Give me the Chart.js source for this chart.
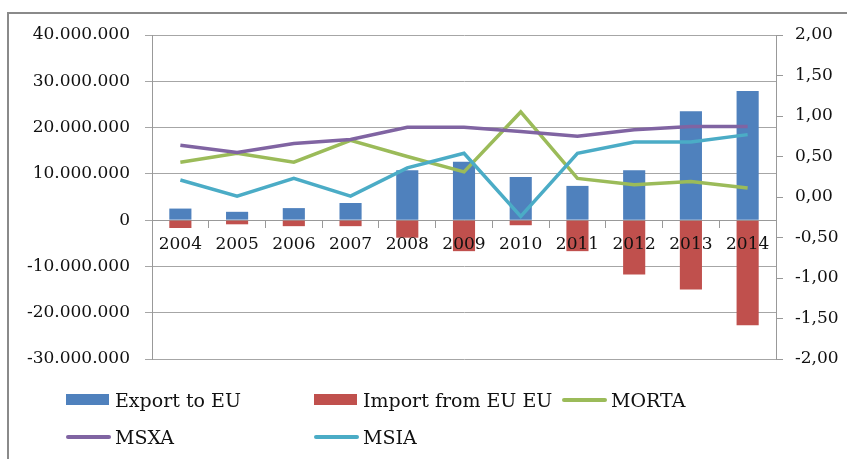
<!DOCTYPE html>
<html lang="en">
<head>
  <meta charset="UTF-8">
  <title>Export / Import EU</title>
  <style>
    body { margin: 0; background: #fff; font-family: "DejaVu Serif", serif; }
    #frame { position: absolute; left: 7px; top: 12px; width: 900px; height: 500px; border-left: 2px solid #8a8a8a; border-top: 2px solid #8a8a8a; }
    #wrap { position: absolute; left: 0; top: 0; width: 847px; height: 459px; }
    #legend { position: absolute; left: 66px; top: 381px; display: grid; grid-template-columns: 248px 248px 248px; grid-auto-rows: 37px; font-size: 19px; color: #111; }
    .item { display: flex; align-items: center; white-space: nowrap; }
    .sw { width: 45px; margin-right: 4px; }
  </style>
  <script src="https://cdn.jsdelivr.net/npm/chart.js"></script>
</head>
<body>
  <div id="frame"></div>
  <div id="wrap"><canvas id="c" width="847" height="459"></canvas></div>
  <div id="legend"></div>

  <script>
    // data
    const years = ['2004', '2005', '2006', '2007', '2008', '2009', '2010', '2011', '2012', '2013', '2014'];
    const exportEU = [2500000, 1800000, 2600000, 3700000, 10800000, 12600000, 9300000, 7400000, 10800000, 23500000, 27900000];
    const importEU = [-1700000, -900000, -1300000, -1300000, -3800000, -6700000, -1100000, -6700000, -11750000, -15000000, -22700000];
    const morta = [0.43, 0.54, 0.43, 0.70, 0.50, 0.31, 1.05, 0.23, 0.15, 0.19, 0.11];
    const msxa = [0.64, 0.55, 0.66, 0.71, 0.86, 0.86, 0.81, 0.75, 0.83, 0.87, 0.87];
    const msia = [0.21, 0.01, 0.23, 0.01, 0.36, 0.54, -0.24, 0.54, 0.68, 0.68, 0.77];
    const leftTicks = [-30000000, 40000000, 10000000];   // min, max, step
    const rightTicks = [-2, 2, 0.5];

    const tickFont = { family: 'DejaVu Serif', size: 17 };
    const gridCol = '#a6a6a6';

    function dots(v) {
      const s = Math.abs(Math.round(v)).toString().replace(/\B(?=(\d{3})+(?!\d))/g, '.');
      return (v < 0 ? '-' : '') + s;
    }

    const chart = new Chart(document.getElementById('c'), {
      type: 'bar',
      data: {
        labels: years,
        datasets: [
          { label: 'Export to EU', data: exportEU, backgroundColor: '#4F81BD', stack: 'trade', yAxisID: 'y', order: 2,
            barPercentage: 1, categoryPercentage: 0.39 },
          { label: 'Import from EU EU', data: importEU, backgroundColor: '#C0504D', stack: 'trade', yAxisID: 'y', order: 2,
            barPercentage: 1, categoryPercentage: 0.39 },
          { type: 'line', label: 'MORTA', data: morta, borderColor: '#9BBB59', backgroundColor: '#9BBB59', yAxisID: 'y1', order: 1,
            borderWidth: 3.5, pointRadius: 0, tension: 0 },
          { type: 'line', label: 'MSXA', data: msxa, borderColor: '#8064A2', backgroundColor: '#8064A2', yAxisID: 'y1', order: 0.5,
            borderWidth: 3.5, pointRadius: 0, tension: 0 },
          { type: 'line', label: 'MSIA', data: msia, borderColor: '#4BACC6', backgroundColor: '#4BACC6', yAxisID: 'y1', order: 0,
            borderWidth: 3.5, pointRadius: 0, tension: 0 }
        ]
      },
      options: {
        responsive: false,
        animation: false,
        layout: { padding: { top: 35, bottom: 100, left: 0, right: 0 } },
        plugins: { legend: { display: false }, tooltip: { enabled: false } },
        scales: {
          x: {
            stacked: true,
            position: { y: 0 },
            grid: { offset: true, drawOnChartArea: false, tickLength: 7, color: '#999' },
            border: { color: '#999' },
            // year labels sit on top of the bars like in Excel
            ticks: { font: tickFont, color: '#111', padding: 7, maxRotation: 0, z: 1 }
          },
          y: {
            stacked: true,
            position: 'left',
            min: leftTicks[0], max: leftTicks[1],
            grid: { color: gridCol, tickLength: 7 },
            border: { color: '#999' },
            ticks: { stepSize: leftTicks[2], font: tickFont, color: '#111', padding: 15, callback: v => dots(v) },
            afterFit: s => { s.width = 152; }
          },
          y1: {
            position: 'right',
            min: rightTicks[0], max: rightTicks[1],
            grid: { drawOnChartArea: false, color: '#999', tickLength: 7 },
            border: { color: '#999' },
            ticks: { stepSize: rightTicks[2], font: tickFont, color: '#111', padding: 12,
              callback: v => v.toFixed(2).replace('.', ',') },
            afterFit: s => { s.width = 71; }
          }
        }
      }
    });

    // legend laid out like the original, in columns
    const legend = document.getElementById('legend');
    chart.data.datasets.forEach(ds => {
      const item = document.createElement('div');
      item.className = 'item';
      const sw = document.createElement('div');
      sw.className = 'sw';
      if (ds.type === 'line') {
        sw.style.height = '4px';
        sw.style.borderRadius = '2px';
      } else {
        sw.style.height = '11px';
        sw.style.width = '43px';
        sw.style.marginRight = '6px';
      }
      sw.style.background = ds.backgroundColor;
      const t = document.createElement('span');
      t.textContent = ds.label;
      item.appendChild(sw);
      item.appendChild(t);
      legend.appendChild(item);
    });
  </script>
</body>
</html>
